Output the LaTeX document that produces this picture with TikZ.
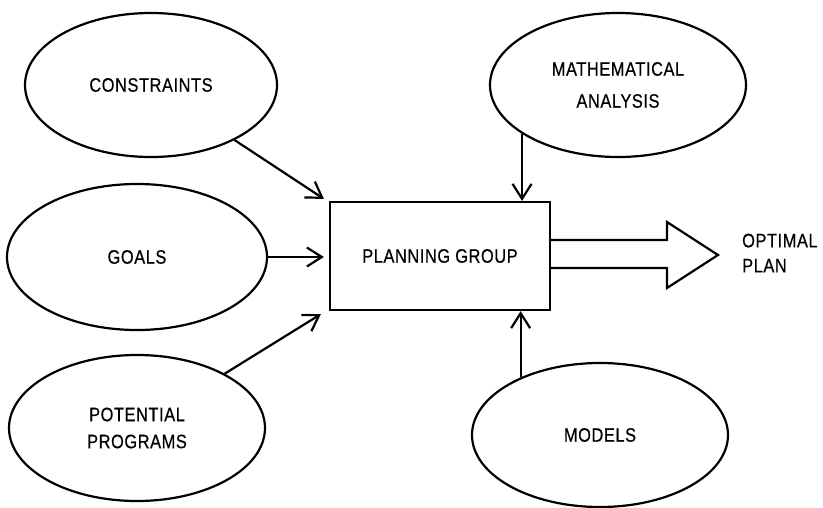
\documentclass[tikz,border=0pt]{standalone}
\usepackage{fontspec}
\setmainfont[FakeStretch=0.84,LetterSpace=3,FakeBold=0.5]{Liberation Sans}
\usetikzlibrary{shapes.geometric,arrows.meta,calc}

\tikzset{
  ink/.style={line width=2.2pt, black},
  bubble/.style={ellipse, draw, ink, inner sep=0pt, align=center,
    font=\fontsize{19.5}{27}\selectfont},
  planbox/.style={rectangle, draw, ink, inner sep=0pt,
    font=\fontsize{19.5}{27}\selectfont},
  feed/.style={ink, -{Straight Barb[length=15pt,width=19pt,line width=2.2pt]}},
  outlabel/.style={align=left, anchor=west, inner sep=0pt,
    font=\fontsize{19.5}{25}\selectfont}
}

\begin{document}
\begin{tikzpicture}[x=1pt,y=-1pt]
  \useasboundingbox (0,0) rectangle (823,507);

  % inputs on the left
  \node[bubble, minimum width=252pt, minimum height=144pt] (cons) at (151,85) {CONSTRAINTS};
  \node[bubble, minimum width=260pt, minimum height=146pt] (goals) at (137,257) {GOALS};
  \node[bubble, minimum width=256pt, minimum height=146pt] (pot) at (137,428) {POTENTIAL\\PROGRAMS};

  % supporting inputs above and below
  \node[bubble, minimum width=256pt, minimum height=144pt] (math) at (618,85) {MATHEMATICAL\\[5pt]ANALYSIS};
  \node[bubble, minimum width=256pt, minimum height=144pt] (models) at (600,435) {MODELS};

  % central box
  \node[planbox, minimum width=220pt, minimum height=108pt] (box) at (440,256) {PLANNING GROUP};

  % connectors into the box
  \coordinate (constip) at ($(box.north west)+(-5,-2)$);
  \coordinate (goaltip) at ($(goals.east -| box.west)+(-5,0)$);
  \coordinate (pottip) at ($(box.south west)+(-8,3)$);
  \draw[feed] (cons) -- (constip);
  \draw[feed] (goals.east) -- (goaltip);
  \draw[feed] (pot) -- (pottip);
  \draw[feed] (math.207) -- (math.207 |- box.north);
  \draw[feed] (models.144) -- (models.144 |- box.south);

  % wide output arrow
  \coordinate (tip) at (718,255);
  \draw[ink, line join=miter]
    (box.east |- 0,240) -- (667,240) -- (667,222) -- (tip)
    -- (667,288) -- (667,268) -- (box.east |- 0,268);

  \node[outlabel] (plan) at (742,253) {OPTIMAL\\PLAN};
\end{tikzpicture}
\end{document}
